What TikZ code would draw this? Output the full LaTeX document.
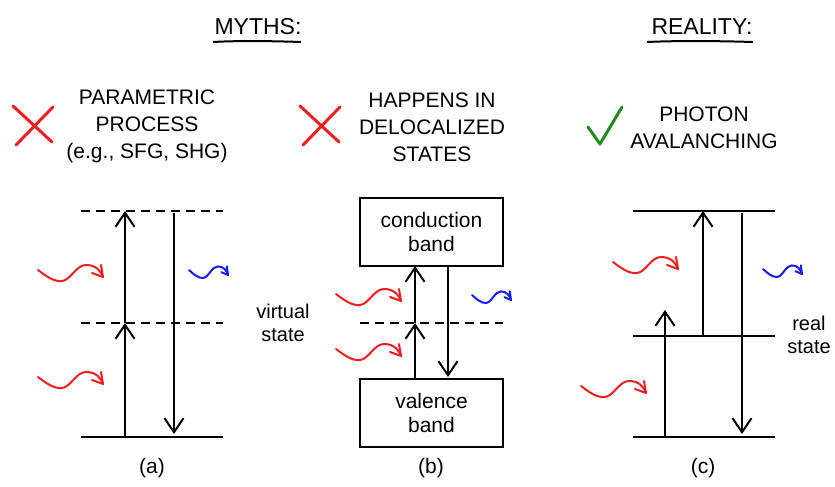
\documentclass[tikz,border=0pt]{standalone}
\usepackage{fontspec}
\setmainfont{Liberation Sans}
\usetikzlibrary{arrows.meta}
\definecolor{xred}{RGB}{240,30,30}
\definecolor{xblue}{RGB}{20,30,240}
\definecolor{xgreen}{RGB}{30,140,30}
\tikzset{
  txt/.style={font=\fontsize{21}{27}\selectfont, align=center, inner sep=0pt},
  small/.style={font=\fontsize{20}{23.5}\selectfont, align=center, inner sep=0pt},
  level/.style={line width=2pt},
  vlevel/.style={line width=2pt, dash pattern=on 9pt off 6pt},
  trans/.style={line width=2pt, -{Straight Barb[length=14pt,width=19pt]}},
  band/.style={draw, line width=2pt, minimum width=143pt, minimum height=68pt,
    font=\fontsize{21}{24}\selectfont, align=center, inner sep=0pt},
  pics/photon/.style={code={
    \draw[line width=2pt, #1, line cap=round, line join=round]
      (0,0) .. controls (8,6) and (16,12) .. (24,11)
            .. controls (33,10) and (38,-5) .. (48,-5)
            .. controls (58,-5) and (63,1) .. (65,7);
    \draw[line width=2pt, #1, line cap=round, line join=round]
      (54,3) -- (65,7) -- (63,-5);
  }},
}
\begin{document}
\begin{tikzpicture}[x=1pt,y=-1pt]
\useasboundingbox (0,0) rectangle (835,487);

% headings
\node[txt, font=\fontsize{23}{27}\selectfont, anchor=base] (myths) at (258,35) {MYTHS:};
\draw[line width=2pt] (213,42) .. controls (240,40.5) and (270,41) .. (301,42);
\node[txt, font=\fontsize{23}{27}\selectfont, anchor=base] (reality) at (702,35) {REALITY:};
\draw[line width=2pt] (647,42) .. controls (680,40.5) and (720,41) .. (753,42);

% verdict marks and captions
\draw[xred, line width=3pt, line cap=round] (13,106) -- (52,142);
\draw[xred, line width=3pt, line cap=round] (53,107) -- (16,145);
\node[txt] (capa) at (147,126) {PARAMETRIC\\PROCESS\\(e.g., SFG, SHG)};

\draw[xred, line width=3pt, line cap=round] (300,106) -- (339,142);
\draw[xred, line width=3pt, line cap=round] (340,107) -- (303,145);
\node[txt] (capb) at (432,127) {HAPPENS IN\\DELOCALIZED\\STATES};

\draw[xgreen, line width=3pt, line cap=round, line join=round] (588,127) -- (600,144) -- (622,107);
\node[txt] (capc) at (704,128) {PHOTON\\AVALANCHING};

% ---------- (a) parametric process ----------
\draw[vlevel] (81,211) coordinate (aTL) -- (223,211) coordinate (aTR);
\draw[vlevel] (81,323) coordinate (aML) -- (223,323) coordinate (aMR);
\draw[level]  (81,437) coordinate (aBL) -- (223,437) coordinate (aBR);
\coordinate (a0) at (125,437);
\coordinate (a1) at (125,323);
\coordinate (a2) at (125,211);
\coordinate (a3) at (174,213);
\coordinate (a4) at (174,434);
\draw[trans] (a0) -- (a1);
\draw[trans] (a1) -- (a2);
\draw[trans] (a3) -- (a4);
\pic at (38,270) {photon=xred};
\pic at (38,377) {photon=xred};
\pic[xscale=0.6, yscale=0.72] at (189,270) {photon=xblue};
\node[small] (virt) at (283,323) {virtual\\state};
\node[txt] (laba) at (152,468) {(a)};

% ---------- (b) band picture ----------
\node[band] (cb) at (431.5,232) {conduction\\band};
\node[band] (vb) at (431.5,412.5) {valence\\band};
\draw[vlevel] (360,323) coordinate (bML) -- (503,323) coordinate (bMR);
\coordinate (b0) at (415,378);
\coordinate (b1) at (415,323);
\coordinate (b2) at (415,266);
\coordinate (b3) at (448,266);
\coordinate (b4) at (448,377);
\draw[trans] (b0) -- (b1);
\draw[trans] (b1) -- (b2);
\draw[trans] (b3) -- (b4);
\pic at (336,294) {photon=xred};
\pic at (336,349) {photon=xred};
\pic[xscale=0.6, yscale=0.72] at (472,295) {photon=xblue};
\node[txt] (labb) at (431,468) {(b)};

% ---------- (c) photon avalanching ----------
\draw[level] (633,211) coordinate (cTL) -- (775,211) coordinate (cTR);
\draw[level] (633,336) coordinate (cML) -- (775,336) coordinate (cMR);
\draw[level] (633,437) coordinate (cBL) -- (775,437) coordinate (cBR);
\coordinate (c0) at (665,437);
\coordinate (c1) at (665,310);
\coordinate (c2) at (703,336);
\coordinate (c3) at (703,211);
\coordinate (c4) at (742,213);
\coordinate (c5) at (742,434);
\draw[trans] (c0) -- (c1);
\draw[trans] (c2) -- (c3);
\draw[trans] (c4) -- (c5);
\pic at (613,262) {photon=xred};
\pic at (581,386) {photon=xred};
\pic[xscale=0.6, yscale=0.72] at (763,269) {photon=xblue};
\node[small] (real) at (809,335) {real\\state};
\node[txt] (labc) at (703,468) {(c)};
\end{tikzpicture}
\end{document}
